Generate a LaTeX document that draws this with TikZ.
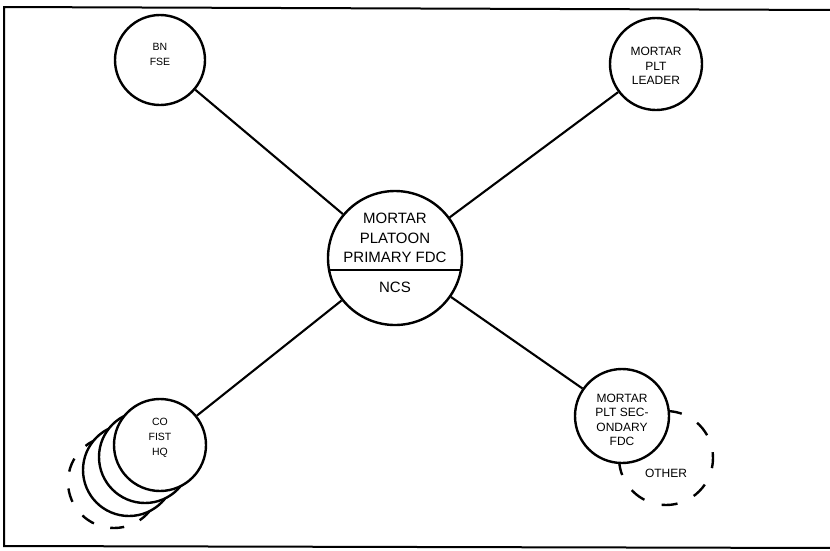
\documentclass[tikz,border=0pt]{standalone}
\usepackage{fontspec}
\setmainfont{Liberation Sans}
\begin{document}
\begin{tikzpicture}[x=1pt,y=-1pt,
  unit/.style={circle, draw, fill=white, line width=2.4pt, inner sep=0pt},
  backring/.style={draw, fill=white, line width=2.4pt},
  bigtxt/.style={font=\fontsize{15}{19.5}\selectfont, align=center, inner sep=0pt},
  midtxt/.style={font=\fontsize{12}{14.5}\selectfont, align=center, inner sep=0pt},
  smalltxt/.style={font=\fontsize{10.5}{15}\selectfont, align=center, inner sep=0pt},
  link/.style={line width=2.1pt},
  ghost/.style={line width=2.4pt, dash pattern=on 16pt off 18pt},
  ghostb/.style={draw, fill=white, line width=2.4pt, dash pattern=on 14pt off 17pt}]
\useasboundingbox (0,0) rectangle (830,550);
\begin{scope}
\clip (0,0) rectangle (830,550);
\draw[line width=2pt, line join=miter] (840,10) -- (4,7) -- (4,546) -- (840,548);
\end{scope}

% central node
\node[unit, minimum size=134pt] (c) at (395,258) {};
\draw[line width=2pt] (c.center) ++(-65.9,12) -- ++(131.8,0);
\node[bigtxt] (ct) at (395,238) {MORTAR\\PLATOON\\PRIMARY FDC};
\node[bigtxt] (cn) at (395,287) {NCS};

% BN FSE
\node[unit, minimum size=90pt] (bn) at (160,60) {};
\node[smalltxt] (bnt) at (160,54.5) {BN\\FSE};

% Mortar PLT leader
\node[unit, minimum size=92pt] (ldr) at (656,64) {};
\node[midtxt] (ldrt) at (656,66) {MORTAR\\PLT\\LEADER};

% CO FIST HQ stack
\draw[ghostb] (114,482) circle[radius=46];
\draw[backring] (129,470) circle[radius=46];
\draw[backring] (145,457) circle[radius=46];
\node[unit, minimum size=92pt] (co) at (160,445) {};
\node[smalltxt] (cot) at (160,438) {CO\\FIST\\HQ};

% secondary FDC and other
\draw[ghost] (666,411) arc[start angle=-90, end angle=180, radius=47];
\node[unit, minimum size=94pt] (sec) at (622,416) {};
\node[midtxt] (sect) at (622,420) {MORTAR\\PLT SEC-\\ONDARY\\FDC};
\node[midtxt] (oth) at (666,473) {OTHER};

% connectors
\draw[link] (c) -- (bn);
\draw[link] (c) -- (ldr);
\draw[link] (c) -- (co);
\draw[link] (c) -- (sec);
\end{tikzpicture}
\end{document}
